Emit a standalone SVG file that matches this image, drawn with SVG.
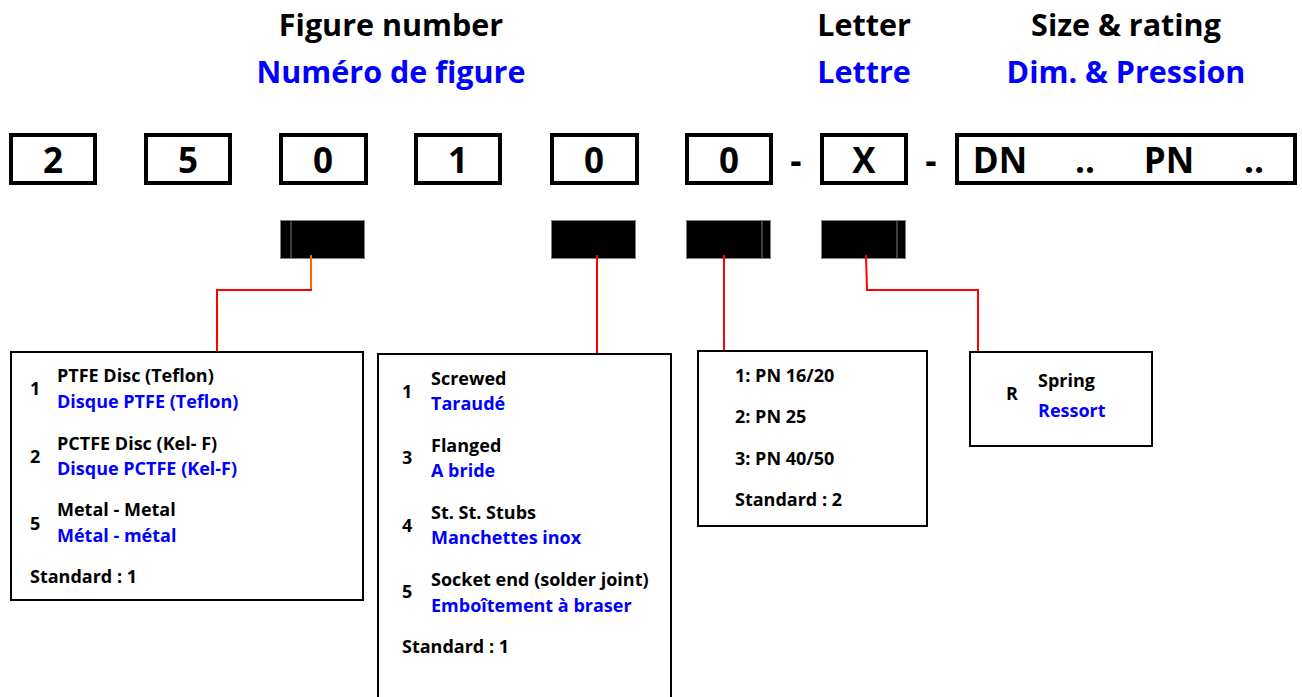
<svg xmlns="http://www.w3.org/2000/svg" width="1302" height="697" viewBox="0 0 1302 697">
<style>
text{font-family:"Open Sans",Lato,"Liberation Sans",sans-serif;font-weight:bold;fill:#000}
.t{font-size:30.5px;text-anchor:middle}
.b{fill:#0000ff}
.d{font-size:35px;text-anchor:middle}
.s{font-size:18px}
.code{fill:#fff;stroke:#000;stroke-width:4}
.bar{fill:#000;stroke:#808080;stroke-width:1}
.box{fill:#fff;stroke:#000;stroke-width:2}
.c{fill:none;stroke:#ff0000;stroke-width:2}
</style>
<rect width="1302" height="697" fill="#fff"/>
<g id="titles">
<text class="t" x="391" y="36">Figure number</text>
<text class="t b" x="391" y="83">Numéro de figure</text>
<text class="t" x="864" y="36">Letter</text>
<text class="t b" x="864" y="83">Lettre</text>
<text class="t" x="1126" y="36">Size &amp; rating</text>
<text class="t b" x="1126" y="83">Dim. &amp; Pression</text>
</g>
<g id="code-2"><rect class="code" x="11" y="135" width="84" height="48"/><text class="d" x="53" y="173">2</text></g>
<g id="code-5"><rect class="code" x="146" y="135" width="84" height="48"/><text class="d" x="188" y="173">5</text></g>
<g id="code-0a"><rect class="code" x="281" y="135" width="85" height="48"/><text class="d" x="323" y="173">0</text></g>
<g id="code-1"><rect class="code" x="416" y="135" width="84" height="48"/><text class="d" x="458" y="173">1</text></g>
<g id="code-0b"><rect class="code" x="552" y="135" width="85" height="48"/><text class="d" x="594" y="173">0</text></g>
<g id="code-0c"><rect class="code" x="687" y="135" width="84" height="48"/><text class="d" x="729" y="173">0</text></g>
<text class="d" x="796" y="173">-</text>
<g id="code-X"><rect class="code" x="822" y="135" width="84" height="48"/><text class="d" x="864" y="173">X</text></g>
<text class="d" x="931" y="173">-</text>
<g id="code-size"><rect class="code" x="957" y="135" width="338" height="48"/>
<text class="d" x="1000" y="173">DN</text><text class="d" x="1085" y="173">..</text>
<text class="d" x="1169" y="173">PN</text><text class="d" x="1254" y="173">..</text></g>
<g id="bars">
<rect class="bar" x="280.5" y="220.5" width="84" height="38"/><line x1="291" y1="221" x2="291" y2="258" stroke="#808080"/>
<rect class="bar" x="551.5" y="220.5" width="84" height="38"/>
<rect class="bar" x="686.5" y="220.5" width="84" height="38"/><line x1="762" y1="221" x2="762" y2="258" stroke="#808080"/>
<rect class="bar" x="821.5" y="220.5" width="84" height="38"/><line x1="897" y1="221" x2="897" y2="258" stroke="#808080"/>
</g>
<g id="connectors">
<line x1="311" y1="255" x2="311" y2="290" stroke="#ff6600" stroke-width="2"/>
<polyline class="c" points="312,290 217,290 217,352"/>
<polyline class="c" points="597,255 597,353"/>
<polyline class="c" points="724,255 724,351"/>
<polyline class="c" points="866,255 867,290 978,290 978,352"/>
</g>
<g id="box-seat">
<rect class="box" x="11" y="352" width="352" height="248"/>
<text class="s" x="30" y="395">1</text>
<text class="s" x="57" y="382">PTFE Disc (Teflon)</text>
<text class="s b" x="57" y="408">Disque PTFE (Teflon)</text>
<text class="s" x="30" y="463">2</text>
<text class="s" x="57" y="450">PCTFE Disc (Kel- F)</text>
<text class="s b" x="57" y="475">Disque PCTFE (Kel-F)</text>
<text class="s" x="30" y="530">5</text>
<text class="s" x="57" y="516">Metal - Metal</text>
<text class="s b" x="57" y="542">Métal - métal</text>
<text class="s" x="30" y="583">Standard : 1</text>
</g>
<g id="box-ends">
<rect class="box" x="378" y="354" width="293" height="360"/>
<text class="s" x="402" y="398">1</text>
<text class="s" x="431" y="385">Screwed</text>
<text class="s b" x="431" y="410">Taraudé</text>
<text class="s" x="402" y="464">3</text>
<text class="s" x="431" y="452">Flanged</text>
<text class="s b" x="431" y="477">A bride</text>
<text class="s" x="402" y="532">4</text>
<text class="s" x="431" y="519">St. St. Stubs</text>
<text class="s b" x="431" y="544">Manchettes inox</text>
<text class="s" x="402" y="598">5</text>
<text class="s" x="431" y="586">Socket end (solder joint)</text>
<text class="s b" x="431" y="612">Emboîtement à braser</text>
<text class="s" x="402" y="653">Standard : 1</text>
</g>
<g id="box-pressure">
<rect class="box" x="698" y="351" width="229" height="175"/>
<text class="s" x="735" y="382">1: PN 16/20</text>
<text class="s" x="735" y="423">2: PN 25</text>
<text class="s" x="735" y="465">3: PN 40/50</text>
<text class="s" x="735" y="506">Standard : 2</text>
</g>
<g id="box-letter">
<rect class="box" x="970" y="352" width="182" height="94"/>
<text class="s" x="1006" y="400">R</text>
<text class="s" x="1038" y="387">Spring</text>
<text class="s b" x="1038" y="417">Ressort</text>
</g>
</svg>
